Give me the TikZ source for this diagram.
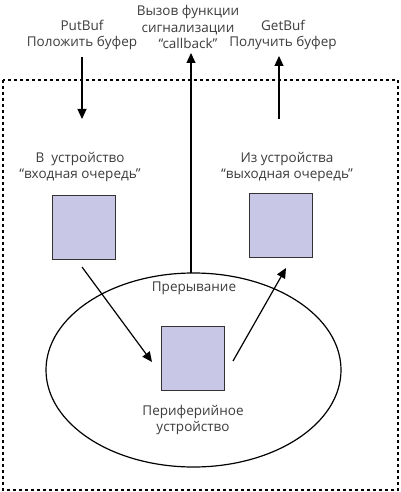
\documentclass[tikz,border=0pt]{standalone}
\usepackage{fontspec}
\setmainfont{Open Sans}
\usetikzlibrary{arrows.meta,shapes.geometric,patterns}
\definecolor{boxfill}{RGB}{200,200,230}
\definecolor{txt}{RGB}{60,60,60}
\begin{document}
\begin{tikzpicture}[x=1pt,y=-1pt,
  lbl/.style={text=txt,font=\fontsize{13.5}{16.5}\selectfont,align=center,inner sep=0pt},
  buf/.style={draw=black!80,line width=0.9pt,fill=boxfill,minimum width=63pt,minimum height=64pt,inner sep=0pt},
  arr/.style={line width=1.2pt,-{Triangle[length=10pt,width=9pt]}},
  ln/.style={line width=1.2pt}]
\useasboundingbox (0,0) rectangle (400,492);
\draw[line width=1.3pt,dash pattern=on 3pt off 3pt] (3,80) rectangle (398,490);
\node[draw,ellipse,line width=1.2pt,minimum width=295pt,minimum height=194pt,inner sep=0pt] (dev) at (193.5,370) {};
\node[buf] (inq) at (83.5,227) {};
\node[buf] (outq) at (280.5,225) {};
\node[buf] (pd) at (193,358) {};
% labels
\node[lbl] (put) at (82,35) {PutBuf\\Положить буфер};
\node[lbl] (cb) at (188,27) {Вызов функции\\сигнализации\\“callback”};
\node[lbl] (get) at (283,35) {GetBuf\\Получить буфер};
\node[lbl] (inl) at (80,167) {В~ устройство\\“входная очередь”};
\node[lbl] (outl) at (287,167) {Из устройства\\“выходная очередь”};
\node[lbl] (intr) at (194,288) {Прерывание};
\node[lbl] (pdl) at (193,420) {Периферийное\\устройство};
% arrows
\coordinate (p1) at (82,57);
\coordinate (p2) at (82,119);
\draw[arr] (p1) -- (p2);
\coordinate (c1) at (191,273);
\coordinate (c2) at (191,53);
\draw[arr] (c1) -- (c2);
\coordinate (g1) at (279,119);
\coordinate (g2) at (279,56);
\draw[arr] (g1) -- (g2);
\coordinate (d1) at (82,267);
\coordinate (d2) at (152,362);
\draw[arr] (d1) -- (d2);
\coordinate (e1) at (233,361);
\coordinate (e2) at (286,268);
\draw[arr] (e1) -- (e2);
\end{tikzpicture}
\end{document}
